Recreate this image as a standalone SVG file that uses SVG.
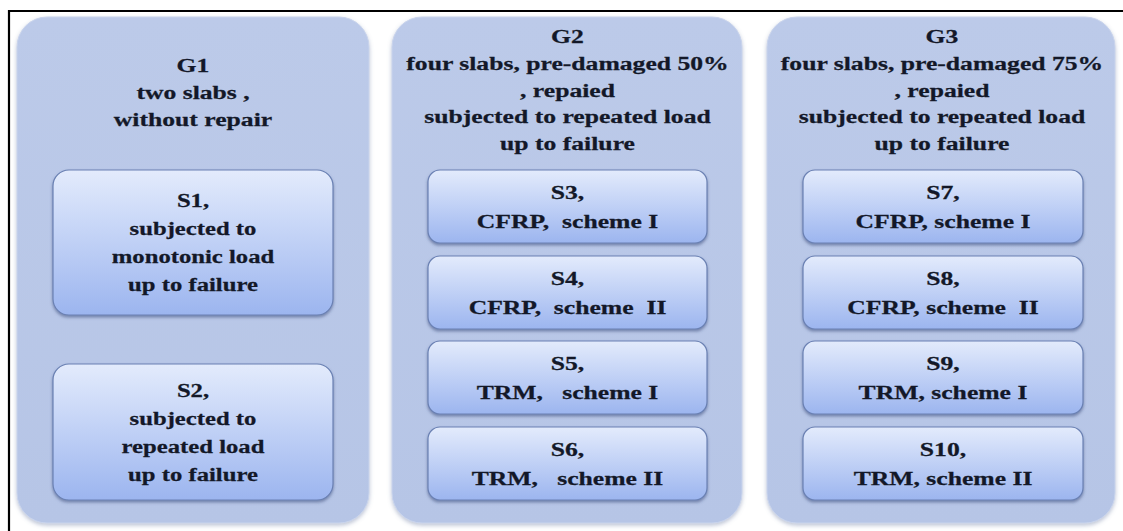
<svg xmlns="http://www.w3.org/2000/svg" width="1123" height="531" viewBox="0 0 1123 531">
<defs>
<linearGradient id="boxGrad" x1="0" y1="0" x2="0" y2="1">
<stop offset="0" stop-color="#e3ebfc"/>
<stop offset="1" stop-color="#9cb5ef"/>
</linearGradient>
<linearGradient id="panelGrad" x1="0" y1="0" x2="0" y2="1">
<stop offset="0" stop-color="#bccae9"/>
<stop offset="1" stop-color="#b6c5e6"/>
</linearGradient>
<filter id="panelShadow" x="-5%" y="-5%" width="110%" height="110%">
<feDropShadow dx="0" dy="2" stdDeviation="2" flood-color="#6b7da3" flood-opacity="0.45"/>
</filter>
<filter id="boxShadow" x="-5%" y="-10%" width="110%" height="125%">
<feDropShadow dx="0" dy="2" stdDeviation="1.5" flood-color="#3b4d7a" flood-opacity="0.55"/>
</filter>
</defs>
<style>
.panel{fill:url(#panelGrad);stroke:#c9d4ec;stroke-width:1;filter:url(#panelShadow)}
.box{fill:url(#boxGrad);stroke:#6a80b3;stroke-width:1.2;filter:url(#boxShadow)}
text{font-family:"Liberation Serif","Times New Roman",serif;font-weight:bold;font-size:19px;fill:#131828;stroke:#131828;stroke-width:0.25;text-anchor:middle;white-space:pre}
</style>
<rect x="0" y="0" width="1123" height="531" fill="#ffffff"/>
<path d="M9 531 V11 H1123" fill="none" stroke="#000000" stroke-width="2.2"/>

<g id="connectors"></g>

<g id="G1">
<rect class="panel" x="17" y="17" width="352" height="506" rx="30" ry="30"/>
<text transform="translate(193,72) scale(1.35,1)"><tspan x="0" y="0">G1</tspan><tspan x="0" dy="27">two slabs ,</tspan><tspan x="0" dy="27">without repair</tspan></text>
</g>
<g id="S1">
<rect class="box" x="53" y="170" width="280" height="145" rx="16" ry="16"/>
<text transform="translate(193,207) scale(1.3,1)"><tspan x="0" y="0">S1,</tspan><tspan x="0" dy="28">subjected to</tspan><tspan x="0" dy="28">monotonic load</tspan><tspan x="0" dy="28">up to failure</tspan></text>
</g>
<g id="S2">
<rect class="box" x="53" y="364" width="280" height="136" rx="16" ry="16"/>
<text transform="translate(193,397) scale(1.3,1)"><tspan x="0" y="0">S2,</tspan><tspan x="0" dy="28">subjected to</tspan><tspan x="0" dy="28">repeated load</tspan><tspan x="0" dy="28">up to failure</tspan></text>
</g>

<g id="G2">
<rect class="panel" x="392" y="17" width="350" height="506" rx="30" ry="30"/>
<text transform="translate(567.5,43) scale(1.35,1)"><tspan x="0" y="0">G2</tspan><tspan x="0" dy="26.8">four slabs, pre-damaged 50%</tspan><tspan x="0" dy="26.8">, repaied</tspan><tspan x="0" dy="26.8">subjected to repeated load</tspan><tspan x="0" dy="26.8">up to failure</tspan></text>
</g>
<g id="S3">
<rect class="box" x="428" y="170" width="279" height="73" rx="12" ry="12"/>
<text transform="translate(567.5,199) scale(1.35,1)"><tspan x="0" y="0">S3,</tspan><tspan x="0" dy="29">CFRP,  scheme I</tspan></text>
</g>
<g id="S4">
<rect class="box" x="428" y="256" width="279" height="73" rx="12" ry="12"/>
<text transform="translate(567.5,285) scale(1.35,1)"><tspan x="0" y="0">S4,</tspan><tspan x="0" dy="29">CFRP,  scheme  II</tspan></text>
</g>
<g id="S5">
<rect class="box" x="428" y="341" width="279" height="73" rx="12" ry="12"/>
<text transform="translate(567.5,370) scale(1.35,1)"><tspan x="0" y="0">S5,</tspan><tspan x="0" dy="29">TRM,   scheme I</tspan></text>
</g>
<g id="S6">
<rect class="box" x="428" y="427" width="279" height="73" rx="12" ry="12"/>
<text transform="translate(567.5,456) scale(1.35,1)"><tspan x="0" y="0">S6,</tspan><tspan x="0" dy="29">TRM,   scheme II</tspan></text>
</g>

<g id="G3">
<rect class="panel" x="767" y="17" width="348" height="506" rx="30" ry="30"/>
<text transform="translate(942,43) scale(1.35,1)"><tspan x="0" y="0">G3</tspan><tspan x="0" dy="26.8">four slabs, pre-damaged 75%</tspan><tspan x="0" dy="26.8">, repaied</tspan><tspan x="0" dy="26.8">subjected to repeated load</tspan><tspan x="0" dy="26.8">up to failure</tspan></text>
</g>
<g id="S7">
<rect class="box" x="803" y="170" width="280" height="73" rx="12" ry="12"/>
<text transform="translate(943,199) scale(1.35,1)"><tspan x="0" y="0">S7,</tspan><tspan x="0" dy="29">CFRP, scheme I</tspan></text>
</g>
<g id="S8">
<rect class="box" x="803" y="256" width="280" height="73" rx="12" ry="12"/>
<text transform="translate(943,285) scale(1.35,1)"><tspan x="0" y="0">S8,</tspan><tspan x="0" dy="29">CFRP, scheme  II</tspan></text>
</g>
<g id="S9">
<rect class="box" x="803" y="341" width="280" height="73" rx="12" ry="12"/>
<text transform="translate(943,370) scale(1.35,1)"><tspan x="0" y="0">S9,</tspan><tspan x="0" dy="29">TRM, scheme I</tspan></text>
</g>
<g id="S10">
<rect class="box" x="803" y="427" width="280" height="73" rx="12" ry="12"/>
<text transform="translate(943,456) scale(1.35,1)"><tspan x="0" y="0">S10,</tspan><tspan x="0" dy="29">TRM, scheme II</tspan></text>
</g>
</svg>
